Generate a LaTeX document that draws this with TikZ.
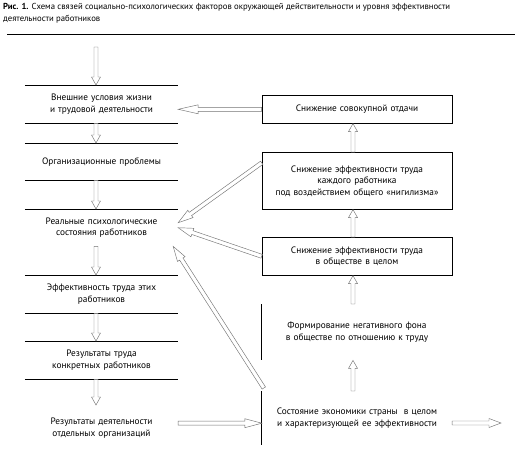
\documentclass[tikz,border=0pt]{standalone}
\usepackage{fontspec}
\setmainfont{PT Sans}
\usetikzlibrary{calc}

\tikzset{
  txt/.style={font=\fontsize{9.3}{11.5}\selectfont, align=center, inner sep=0pt},
  band/.style={txt, text width=153pt, minimum height=#1},
  frame/.style={txt, draw, line width=0.6pt, text width=190pt, minimum height=#1},
  plain/.style={txt, text width=190pt, minimum height=#1},
  rule/.style={line width=0.7pt},
  hollow/.style={draw=black!55, line width=0.45pt, fill=white,
    to path={let \p1=(\tikztostart), \p2=(\tikztotarget) in
      ($(\p1)!2pt!90:(\p2)$) -- ($(\p2)!#1!(\p1)!2pt!-90:(\p1)$)
      -- ($(\p2)!#1!(\p1)!4.5pt!-90:(\p1)$) -- (\p2)
      -- ($(\p2)!#1!(\p1)!4.5pt!90:(\p1)$) -- ($(\p2)!#1!(\p1)!2pt!90:(\p1)$)
      -- ($(\p1)!2pt!-90:(\p2)$) -- cycle}},
  hollow/.default=8pt
}

\begin{document}
\begin{tikzpicture}[x=1pt, y=-1pt]
\useasboundingbox (0,0) rectangle (526,463);
% заголовок
\node[anchor=north west, inner sep=0pt, align=left, font=\fontsize{8.7}{12}\selectfont] (title) at (3,3)
  {\textbf{Рис. 1.} Схема связей социально-психологических факторов окружающей действительности и уровня эффективности\\деятельности работников};
\draw[line width=1pt] (7,34.5) -- (515,34.5);

% левая колонка
\node[band=38pt, anchor=north] (ext) at (101.5,85) {Внешние условия жизни\\и трудовой деятельности};
\node[band=37pt, anchor=north] (org) at (101.5,143) {Организационные проблемы};
\node[band=37pt, anchor=north] (psy) at (101.5,209) {Реальные психологические\\состояния работников};
\node[band=38pt, anchor=north] (eff) at (101.5,275) {Эффективность труда этих\\работников};
\node[band=38pt, anchor=north] (res) at (101.5,341) {Результаты труда\\конкретных работников};
\node[band=46pt, anchor=north] (orgs) at (101.5,405) {Результаты деятельности\\отдельных организаций};
\foreach \b in {ext,org,eff,res}
  \draw[rule] (\b.north west) -- (\b.north east) (\b.south west) -- (\b.south east);
\draw[rule] (psy.north west) -- (psy.north east);

% правая колонка
\node[frame=28pt, anchor=north] (drop) at (357,95) {Снижение совокупной отдачи};
\node[frame=57pt, anchor=north] (nihil) at (357,152) {Снижение эффективности труда\\каждого работника\\под воздействием общего «нигилизма»};
\node[frame=38pt, anchor=north] (soc) at (357,237) {Снижение эффективности труда\\в обществе в целом};
\node[plain=56pt, anchor=north] (bg) at (357,304) {Формирование негативного фона\\в обществе по отношению к труду};
\node[plain=54pt, anchor=north] (econ) at (357,391) {Состояние экономики страны~ в целом\\и характеризующей ее эффективности};
\draw[rule] (bg.north west) -- (bg.south west);
\draw[rule] (econ.north west) -- (econ.south west);

% стрелки
\coordinate (in) at (96,47);
\coordinate (out) at (501,423);
\draw[hollow] (in) to ([xshift=-5.5pt]ext.north);
\draw[hollow] ([xshift=-5.5pt]ext.south) to ([xshift=-5.5pt]org.north);
\draw[hollow] ([xshift=-5.5pt]org.south) to ([xshift=-5.5pt]psy.north);
\draw[hollow] ([xshift=-5.5pt]psy.south) to ([xshift=-5.5pt]eff.north);
\draw[hollow] ([xshift=-5.5pt]eff.south) to ([xshift=-5.5pt]res.north);
\draw[hollow] ([xshift=-5.5pt]res.south) to ([xshift=-5.5pt]orgs.north);

\draw[hollow] ([xshift=-4pt]nihil.north) to ([xshift=-4pt]drop.south);
\draw[hollow] ([xshift=-4pt]soc.north) to ([xshift=-4pt]nihil.south);
\draw[hollow] ([xshift=-4pt]bg.north) to ([xshift=-4pt]soc.south);
\draw[hollow] ([xshift=-4pt]econ.north) to ([xshift=-4pt]bg.south);

\draw[hollow=20pt] (drop.west) to (drop.west -| ext.east);
\draw[hollow=17pt] ([yshift=-5pt]econ.west -| orgs.east) to ([yshift=-5pt]econ.west);
\draw[hollow=12pt] (econ.east |- out) to (out);

\draw[hollow=15pt] ([yshift=18pt]nihil.west) to ([yshift=5pt]psy.east);
\draw[hollow=15pt] (soc.west) to (psy.east);
\draw[hollow=15pt] ([shift={(2pt,3pt)}]econ.north west) to ([xshift=-5pt]psy.south east);
\end{tikzpicture}
\end{document}
